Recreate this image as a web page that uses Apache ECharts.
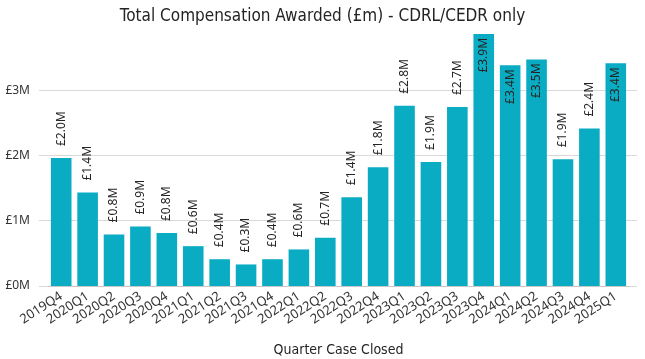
<!DOCTYPE html>
<html>
<head>
<meta charset="utf-8">
<script src="https://cdn.jsdelivr.net/npm/echarts@6/dist/echarts.min.js"></script>
<style>html,body{margin:0;padding:0;background:#fff}#c{width:645px;height:359px}</style>
</head>
<body>
<div id="c"></div>
<script>
const categories = ['2019Q4','2020Q1','2020Q2','2020Q3','2020Q4','2021Q1','2021Q2','2021Q3','2021Q4','2022Q1','2022Q2','2022Q3','2022Q4','2023Q1','2023Q2','2023Q3','2023Q4','2024Q1','2024Q2','2024Q3','2024Q4','2025Q1'];
const values = [1.96,1.43,0.79,0.91,0.81,0.61,0.41,0.33,0.41,0.56,0.74,1.36,1.82,2.76,1.90,2.74,3.86,3.38,3.47,1.94,2.41,3.41];
const yTicks = [0,1,2,3];

const labelFont = "'Noto Sans', 'Open Sans', sans-serif";
const data = values.map(v => {
  const inside = v > 3.0;
  return {
    value: v,
    label: inside
      ? {position: 'insideTop', rotate: 90, align: 'right', verticalAlign: 'middle', distance: 4}
      : {position: 'top', rotate: 90, align: 'left', verticalAlign: 'middle', distance: 12}
  };
});

const chart = echarts.init(document.getElementById('c'), null, {renderer: 'canvas'});
const yMax = 3.92;
chart.setOption({
  animation: false,
  title: {
    text: 'Total Compensation Awarded (£m) - CDRL/CEDR only',
    left: 'center', top: 3,
    textStyle: {fontFamily: "'Liberation Sans Narrow', 'DejaVu Sans Condensed', sans-serif", fontSize: 17, fontWeight: 'normal', color: '#252423'}
  },
  grid: [
    {left: 48, right: 16, top: 30, bottom: 73, containLabel: false, outerBoundsMode: 'none'},
    {left: 39, right: 8, top: 30, bottom: 73, containLabel: false, outerBoundsMode: 'none'}
  ],
  xAxis: [
    {
      type: 'category', data: categories, gridIndex: 0,
      axisLine: {show: true, lineStyle: {color: '#C8C8C8'}},
      axisTick: {show: false},
      axisLabel: {rotate: 33, fontSize: 13, color: '#333', fontFamily: labelFont, margin: 9, interval: 0},
      name: 'Quarter Case Closed', nameLocation: 'middle', nameGap: 57,
      nameTextStyle: {fontFamily: "'Liberation Sans Narrow', 'DejaVu Sans Condensed', sans-serif", fontSize: 14, color: '#252423'}
    },
    {type: 'category', gridIndex: 1, data: [''], show: false}
  ],
  yAxis: [
    {type: 'value', gridIndex: 0, min: 0, max: yMax, interval: 1, show: false, splitLine: {show: false}},
    {
      type: 'value', gridIndex: 1, min: 0, max: yMax, interval: 1,
      axisLine: {show: false}, axisTick: {show: false},
      axisLabel: {
        margin: 9, fontSize: 12, color: '#333', fontFamily: labelFont, showMaxLabel: false,
        formatter: v => yTicks.includes(v) ? '£' + v + 'M' : ''
      },
      splitLine: {show: true, showMaxLine: false, lineStyle: {color: '#D9D9D9', width: 1}}
    }
  ],
  series: [{
    type: 'bar', xAxisIndex: 0, yAxisIndex: 0,
    data: data,
    barCategoryGap: '22%',
    itemStyle: {color: '#0AACC3'},
    label: {
      show: true, fontSize: 12, color: '#252423', fontFamily: labelFont,
      formatter: p => '£' + p.value.toFixed(1) + 'M'
    }
  }]
});
</script>
</body>
</html>
